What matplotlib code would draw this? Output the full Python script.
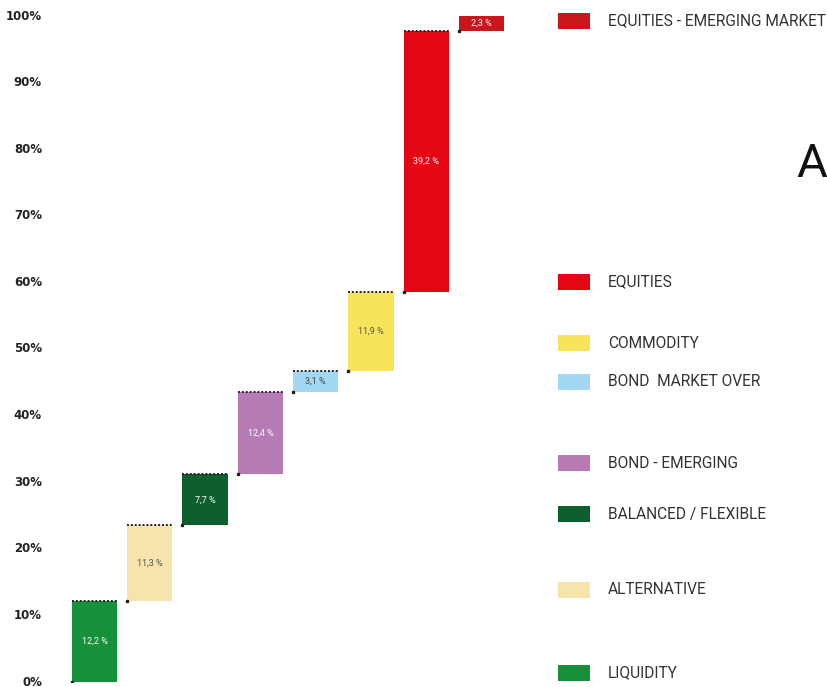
import matplotlib
matplotlib.use("Agg")
import matplotlib.pyplot as plt
from matplotlib.patches import Rectangle
from matplotlib import font_manager

names = {f.name for f in font_manager.fontManager.ttflist}
cond = "Roboto" if "Roboto" in names else "DejaVu Sans"

categories = ["LIQUIDITY", "ALTERNATIVE", "BALANCED / FLEXIBLE", "BOND - EMERGING",
              "BOND  MARKET OVER", "COMMODITY", "EQUITIES", "EQUITIES - EMERGING MARKET"]
values = [12.2, 11.3, 7.7, 12.4, 3.1, 11.9, 39.2, 2.3]
colors = ["#17903a", "#f6e4ad", "#0d5f2d", "#b67bb5", "#a3d8f4", "#f8e45c", "#e30613", "#c8161d"]
label_colors = ["white", "#555555", "white", "white", "#444444", "#555555", "white", "white"]
yticks = [0, 10, 20, 30, 40, 50, 60, 70, 80, 90, 100]

W, H = 828, 687
fig = plt.figure(figsize=(W / 100, H / 100), dpi=100)

def fx(px):
    return px / W

def fy(py):
    return 1 - py / H

# axes: x from 60 to 540 px, y 0 at 682 px, 100 at 16 px
ax = fig.add_axes([fx(60), fy(682), fx(540) - fx(60), fy(16) - fy(682)])
ax.set_ylim(0, 100)
c0, dc = 94.5, 55.3
ax.set_xlim((60 - c0) / dc, (540 - c0) / dc)
ax.axis("off")

width = 0.82
bottom = 0
for i, v in enumerate(values):
    ax.bar(i, v, bottom=bottom, width=width, color=colors[i], edgecolor="none")
    top = bottom + v
    ax.plot([i - width / 2, i + width / 2], [top, top], color="#222222",
            linestyle=(0, (1, 1)), linewidth=1.4)
    ax.plot([i - width / 2], [bottom], marker="s", markersize=2, color="#222222")
    lbl = f"{v:.1f}".replace(".", ",") + " %"
    ax.text(i, bottom + v / 2, lbl, ha="center", va="center", fontsize=6.5,
            color=label_colors[i], family=cond)
    bottom = top

# y tick labels
for t in yticks:
    y = 682 - t * 6.66
    fig.text(fx(42), fy(y), f"{t}%", ha="right", va="center", fontsize=8.5,
             fontweight="bold", color="#222222", family="DejaVu Sans")

# legend
leg_y = [673, 590, 514, 463, 382, 343, 282, 21]
for i, cat in enumerate(categories):
    yc = leg_y[i]
    fig.add_artist(Rectangle((fx(558), fy(yc + 8)), fx(590) - fx(558), fy(yc - 8) - fy(yc + 8),
                             transform=fig.transFigure, color=colors[i], linewidth=0))
    fig.text(fx(608), fy(yc), cat, ha="left", va="center", fontsize=11.2,
             color="#333333", family=cond)

fig.text(fx(796), fy(177), "A", ha="left", va="baseline", fontsize=34,
         color="#111111", family=cond, fontweight="normal")

fig.savefig("out.png", dpi=100)
